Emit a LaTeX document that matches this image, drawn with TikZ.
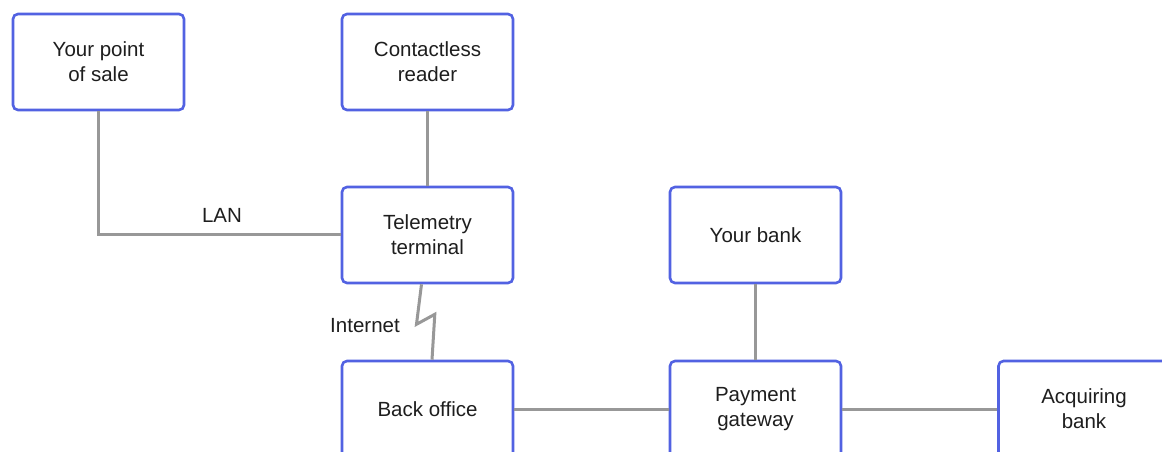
\documentclass[tikz,border=0pt]{standalone}
\usepackage{fontspec}
\setmainfont{Liberation Sans}
\definecolor{boxblue}{RGB}{82,98,226}
\definecolor{linegray}{RGB}{152,152,152}
\definecolor{txt}{RGB}{30,30,30}
\begin{document}
\begin{tikzpicture}[x=1pt,y=-1pt,
  box/.style={draw=boxblue, line width=2.6pt, rounded corners=5pt, fill=white,
    minimum width=171pt, minimum height=96pt, inner sep=0pt, align=center,
    text=txt, font=\fontsize{20.5}{25}\selectfont},
  conn/.style={draw=linegray, line width=3pt},
  lbl/.style={text=txt, font=\fontsize{20.5}{25}\selectfont, inner sep=0pt}]
\useasboundingbox (0,0) rectangle (1162,452);
\clip (0,0) rectangle (1162,452);
\fill[white] (0,0) rectangle (1162,452);
\node[box] (pos) at (98.5,62) {Your point\\of sale};
\node[box] (cr) at (427.5,62) {Contactless\\reader};
\node[box] (tel) at (427.5,235) {Telemetry\\terminal};
\node[box] (bank) at (755.5,235) {Your bank};
\node[box] (bo) at (427.5,409) {Back office};
\node[box] (pg) at (755.5,409) {Payment\\gateway};
\node[box] (acq) at (1084,409) {Acquiring\\bank};
\draw[conn] (pos.south) |- ([yshift=1pt]tel.west);
\draw[conn] (cr.south) -- (tel.north);
\draw[conn, line join=miter] ([xshift=-6pt]tel.south) -- ++(-5,40) -- ++(18.3,-10) -- ([xshift=4.5pt]bo.north);
\draw[conn] (bank.south) -- (pg.north);
\draw[conn] (bo.east) -- (pg.west);
\draw[conn] (pg.east) -- (acq.west);
\node[lbl] (lan) at (222,215) {LAN};
\node[lbl] (inet) at (365,326) {Internet};
\end{tikzpicture}
\end{document}
